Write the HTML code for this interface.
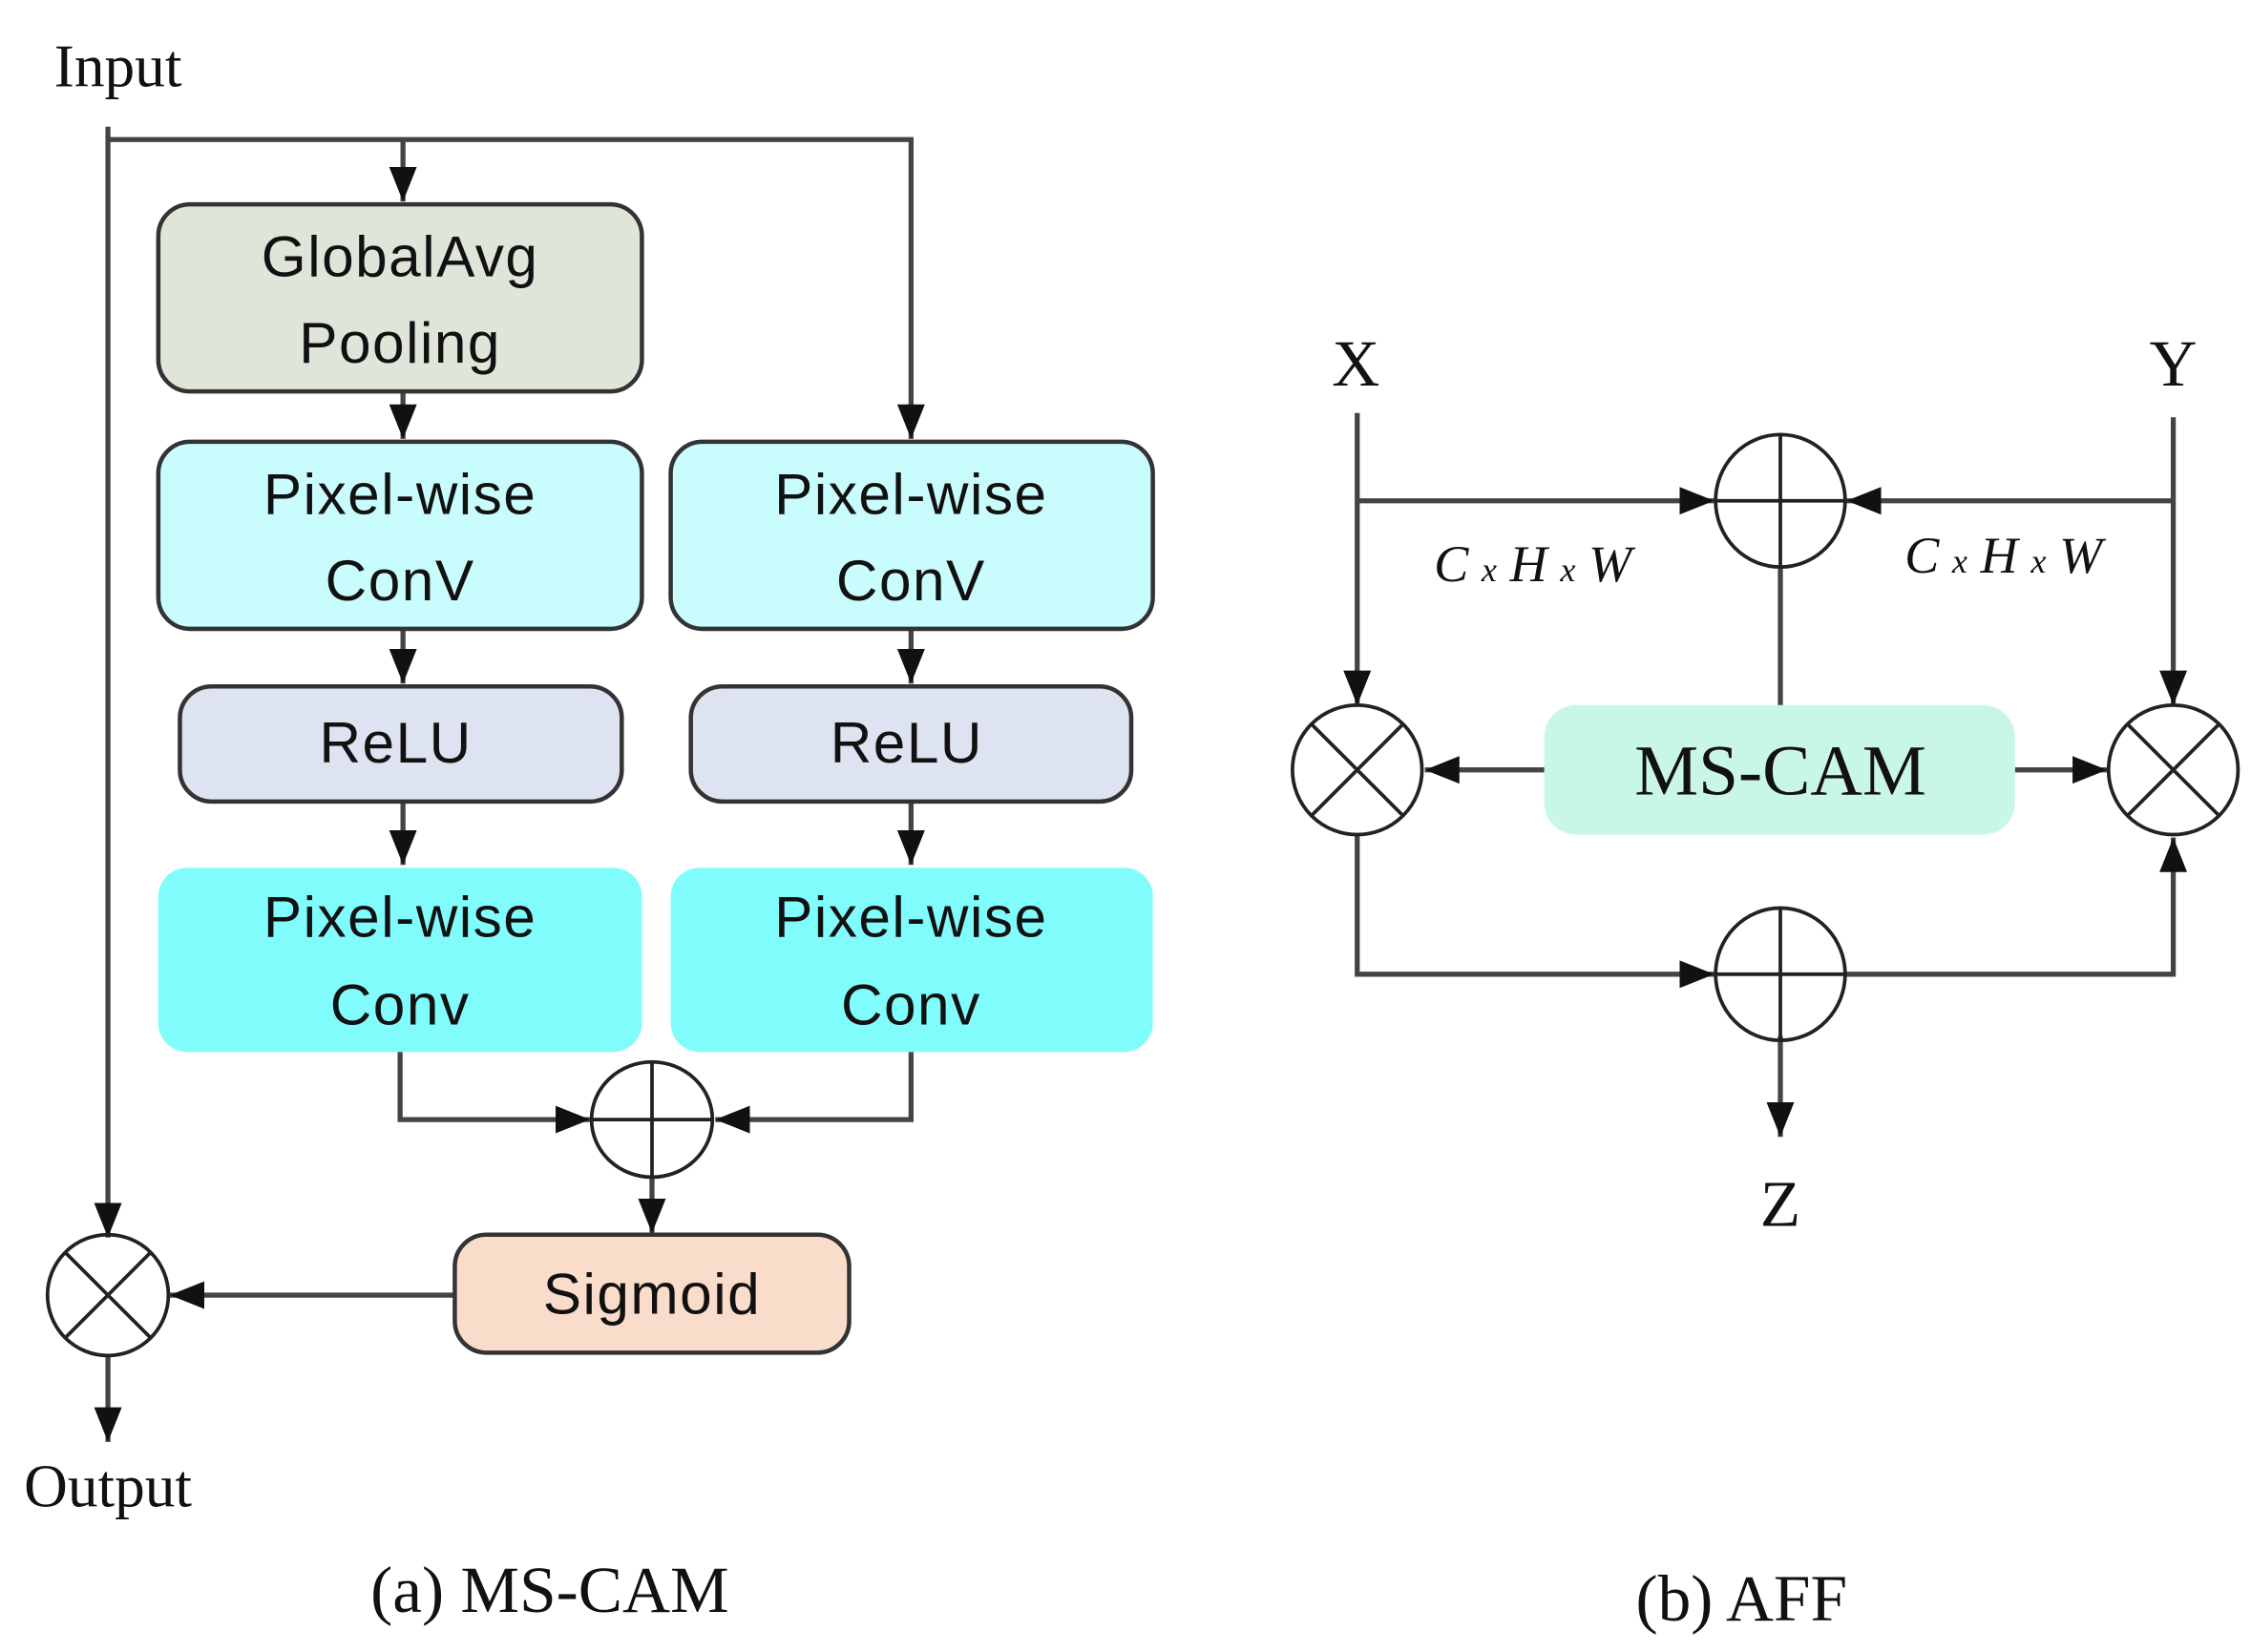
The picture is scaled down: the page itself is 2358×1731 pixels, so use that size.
<!DOCTYPE html>
<html><head><meta charset="utf-8"><style>
html,body{margin:0;padding:0;background:#fff;}
svg{display:block;}
.s{font-family:"Liberation Sans",sans-serif;font-size:40px;fill:#111;text-anchor:middle;letter-spacing:1px;}
.r{font-family:"Liberation Serif",serif;fill:#111;text-anchor:middle;}
</style></head><body>
<svg width="2358" height="1731" viewBox="0 0 1564 1148" preserveAspectRatio="none" xmlns="http://www.w3.org/2000/svg">
<defs>
<marker id="b" viewBox="0 0 10 10" refX="10" refY="5" markerWidth="24" markerHeight="24" orient="auto" markerUnits="userSpaceOnUse">
<path d="M0,1 L10,5 L0,9 z" fill="#111"/></marker>
</defs>
<g stroke="#444" stroke-width="3.5" fill="none">
<path d="M75,88 V860" marker-end="url(#b)"/>
<path d="M75,97 H633 V305" marker-end="url(#b)"/>
<path d="M280,97 V140" marker-end="url(#b)"/>
<path d="M280,272 V305" marker-end="url(#b)"/>
<path d="M280,437 V475" marker-end="url(#b)"/>
<path d="M633,437 V475" marker-end="url(#b)"/>
<path d="M280,557 V601" marker-end="url(#b)"/>
<path d="M633,557 V601" marker-end="url(#b)"/>
<path d="M278,731 V778 H410" marker-end="url(#b)"/>
<path d="M633,731 V778 H497" marker-end="url(#b)"/>
<path d="M453,818 V857" marker-end="url(#b)"/>
<path d="M316,900 H118" marker-end="url(#b)"/>
<path d="M75,942 V1002" marker-end="url(#b)"/>
<path d="M943,287 V490" marker-end="url(#b)"/>
<path d="M943,348 H1191" marker-end="url(#b)"/>
<path d="M1510,290 V490" marker-end="url(#b)"/>
<path d="M1510,348 H1283" marker-end="url(#b)"/>
<path d="M1237,394 V490"/>
<path d="M1073,535 H990" marker-end="url(#b)"/>
<path d="M1400,535 H1464" marker-end="url(#b)"/>
<path d="M943,580 V677 H1191" marker-end="url(#b)"/>
<path d="M1283,677 H1510 V582" marker-end="url(#b)"/>
<path d="M1237,720 V790" marker-end="url(#b)"/>
</g>
<g stroke="#333" stroke-width="3">
<rect x="110" y="142" width="336" height="130" rx="22" fill="#dfe6d9"/>
<rect x="110" y="307" width="336" height="130" rx="22" fill="#c9fcfc"/>
<rect x="466" y="307" width="335" height="130" rx="22" fill="#c9fcfc"/>
<rect x="125" y="477" width="307" height="80" rx="22" fill="#dde3f0"/>
<rect x="480" y="477" width="306" height="80" rx="22" fill="#dde3f0"/>
<rect x="316" y="858" width="274" height="82" rx="22" fill="#fadccb"/>
</g>
<rect x="110" y="603" width="336" height="128" rx="20" fill="#80fcfc"/>
<rect x="466" y="603" width="335" height="128" rx="20" fill="#80fcfc"/>
<rect x="1073" y="490" width="327" height="90" rx="22" fill="#c9f7e6"/>
<g stroke="#222" stroke-width="2.5" fill="none">
<ellipse cx="453" cy="778" rx="42" ry="40"/><path d="M411,778 H495 M453,738 V818"/>
<ellipse cx="75" cy="900" rx="42" ry="42"/><path d="M45,870 L105,930 M105,870 L45,930"/>
<ellipse cx="1237" cy="348" rx="45" ry="46"/><path d="M1192,348 H1282 M1237,302 V394"/>
<ellipse cx="1237" cy="677" rx="45" ry="46"/><path d="M1192,677 H1282 M1237,631 V723"/>
<ellipse cx="943" cy="535" rx="45" ry="45"/><path d="M911,503 L975,567 M975,503 L911,567"/>
<ellipse cx="1510" cy="535" rx="45" ry="45"/><path d="M1478,503 L1542,567 M1542,503 L1478,567"/>
</g>
<text class="s" x="278" y="192">GlobalAvg</text>
<text class="s" x="278" y="252">Pooling</text>
<text class="s" x="278" y="357">Pixel-wise</text>
<text class="s" x="278" y="417">ConV</text>
<text class="s" x="633" y="357">Pixel-wise</text>
<text class="s" x="633" y="417">ConV</text>
<text class="s" x="275" y="530">ReLU</text>
<text class="s" x="630" y="530">ReLU</text>
<text class="s" x="278" y="651">Pixel-wise</text>
<text class="s" x="278" y="712">Conv</text>
<text class="s" x="633" y="651">Pixel-wise</text>
<text class="s" x="633" y="712">Conv</text>
<text class="s" x="453" y="913">Sigmoid</text>
<text class="r" x="82" y="60" font-size="42">Input</text>
<text class="r" x="75" y="1047" font-size="42">Output</text>
<text class="r" x="382" y="1120" font-size="46">(a) MS-CAM</text>
<text class="r" x="942" y="268" font-size="46">X</text>
<text class="r" x="1510" y="268" font-size="46">Y</text>
<text class="r" x="1237" y="852" font-size="46">Z</text>
<text class="r" x="1237" y="552" font-size="50">MS-CAM</text>
<text class="r" x="1210" y="1126" font-size="46">(b) AFF</text>
<text class="r" x="1065" y="404" font-size="36" font-style="italic">C <tspan font-size="24">x</tspan> H <tspan font-size="24">x</tspan> W</text>
<text class="r" x="1392" y="398" font-size="36" font-style="italic">C <tspan font-size="24">x</tspan> H <tspan font-size="24">x</tspan> W</text>
</svg>
</body></html>
